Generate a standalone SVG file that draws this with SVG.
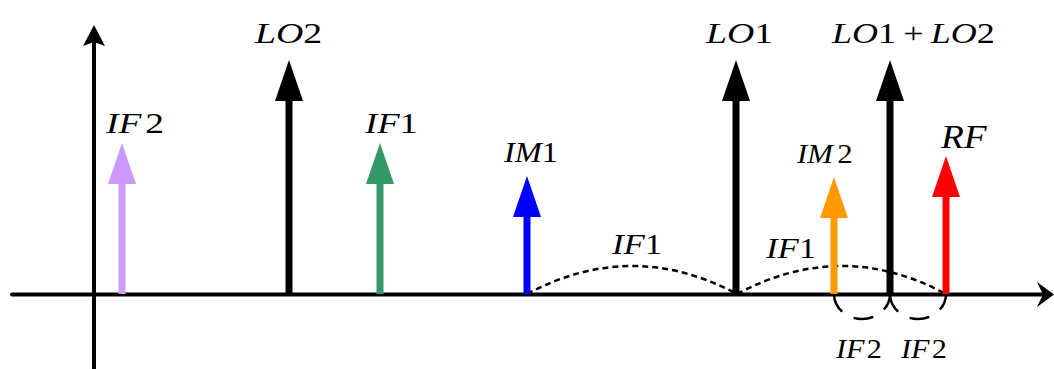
<svg xmlns="http://www.w3.org/2000/svg" width="1054" height="369" viewBox="0 0 1054 369">
<style>
.lbl{font-family:"Liberation Serif","Times New Roman",serif;font-size:30px;fill:#000}
.i{font-style:italic}
.axis{stroke:#000;stroke-width:4;fill:none}
.shaft{stroke-width:7;fill:none}
.dash{stroke:#000;stroke-width:2.5;fill:none;stroke-dasharray:6 4}
.ldash{stroke:#000;stroke-width:2.5;fill:none;stroke-dasharray:20 13}
</style>
<rect width="1054" height="369" fill="#fff"/>
<g id="axes">
<line class="axis" x1="12" y1="294.5" x2="1044" y2="294.5" stroke-linecap="round"/>
<polygon points="1054,294.5 1037,282 1043,294.5 1037,307" fill="#000"/>
<line class="axis" x1="94" y1="369" x2="94" y2="40"/>
<polygon points="94,25 83,46 94,42 105,46" fill="#000"/>
</g>
<g id="connectors">
<path class="dash" d="M527,294 Q632,238 737,294"/>
<path class="dash" d="M737,294 Q842,238 946,294"/>
<path class="ldash" d="M834,294 A28,25 0 0 0 890,294"/>
<path class="ldash" d="M890,294 A28,25 0 0 0 946,294"/>
</g>
<g id="if2">
<line class="shaft" x1="122" y1="294" x2="122" y2="180" stroke="#CC99FF"/>
<polygon points="122,143 108,184 136,184" fill="#CC99FF"/>
<text class="lbl" transform="translate(106,133) scale(1.25,1)"><tspan class="i">IF</tspan><tspan dx="3">2</tspan></text>
</g>
<g id="lo2">
<line class="shaft" x1="289" y1="294" x2="289" y2="98" stroke="#000"/>
<polygon points="289,60 275,101 303,101" fill="#000"/>
<text class="lbl" transform="translate(255,43) scale(1.26,1)"><tspan class="i">LO</tspan>2</text>
</g>
<g id="if1">
<line class="shaft" x1="380" y1="294" x2="380" y2="180" stroke="#339966"/>
<polygon points="380,143 366,184 394,184" fill="#339966"/>
<text class="lbl" transform="translate(365,133) scale(1.22,1)"><tspan class="i">IF</tspan>1</text>
</g>
<g id="im1">
<line class="shaft" x1="527" y1="294" x2="527" y2="213" stroke="#0000FF"/>
<polygon points="527,176 513,217 541,217" fill="#0000FF"/>
<text class="lbl" transform="translate(504,162) scale(1.12,1)" style="font-size:29px"><tspan class="i">IM</tspan>1</text>
</g>
<g id="lo1">
<line class="shaft" x1="736" y1="294" x2="736" y2="98" stroke="#000"/>
<polygon points="736,60 722,101 750,101" fill="#000"/>
<text class="lbl" transform="translate(706,43) scale(1.26,1)"><tspan class="i">LO</tspan>1</text>
</g>
<g id="im2">
<line class="shaft" x1="834" y1="294" x2="834" y2="213" stroke="#FF9900"/>
<polygon points="834,177 820,218 848,218" fill="#FF9900"/>
<text class="lbl" transform="translate(797,163) scale(1.1,1)" style="font-size:28px"><tspan class="i">IM</tspan><tspan dx="4">2</tspan></text>
</g>
<g id="lo1lo2">
<line class="shaft" x1="890" y1="294" x2="890" y2="98" stroke="#000"/>
<polygon points="890,60 876,101 904,101" fill="#000"/>
<text class="lbl" transform="translate(832,43) scale(1.2,1)"><tspan class="i">LO</tspan>1<tspan dx="6">+</tspan><tspan class="i" dx="6">LO</tspan>2</text>
</g>
<g id="rf">
<line class="shaft" x1="946" y1="294" x2="946" y2="193" stroke="#FF0000"/>
<polygon points="946,156 932,197 960,197" fill="#FF0000"/>
<text class="lbl i" transform="translate(941,148) scale(1.1,1)" style="font-size:34px">RF</text>
</g>
<g id="labels">
<text class="lbl" transform="translate(612,254) scale(1.2,1)" style="font-size:29px"><tspan class="i">IF</tspan>1</text>
<text class="lbl" transform="translate(766,258) scale(1.2,1)" style="font-size:29px"><tspan class="i">IF</tspan>1</text>
<text class="lbl" transform="translate(836,358) scale(1.12,1)" style="font-size:27px"><tspan class="i">IF</tspan><tspan dx="2">2</tspan></text>
<text class="lbl" transform="translate(901,358) scale(1.12,1)" style="font-size:27px"><tspan class="i">IF</tspan><tspan dx="2">2</tspan></text>
</g>
</svg>
